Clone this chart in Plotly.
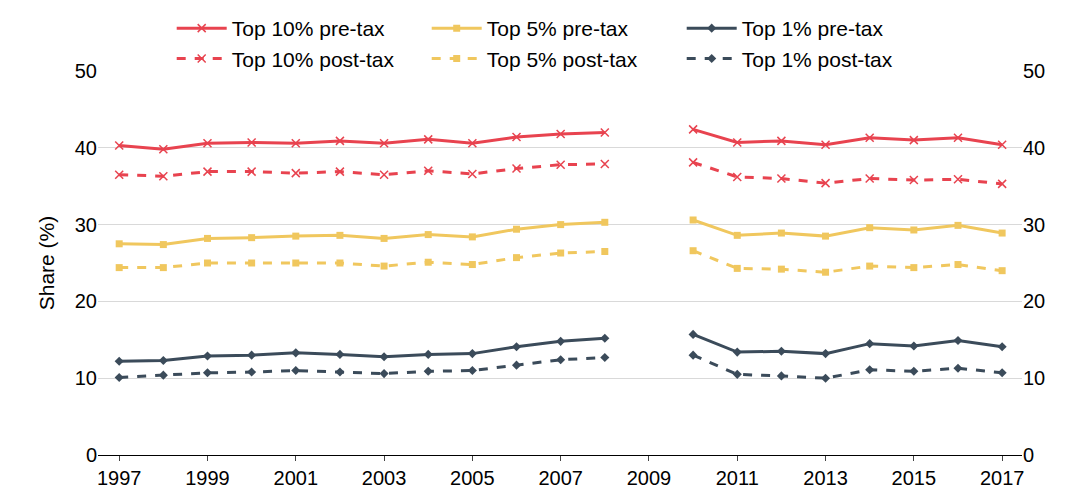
import plotly.graph_objects as go

years = list(range(1997, 2018))
t10_pre = [40.3,39.8,40.6,40.7,40.6,40.9,40.6,41.1,40.6,41.4,41.8,42.0,None,42.4,40.7,40.9,40.4,41.3,41.0,41.3,40.4]
t10_post = [36.5,36.3,36.9,36.9,36.7,36.9,36.5,37.0,36.6,37.3,37.8,37.9,None,38.1,36.2,36.0,35.4,36.0,35.8,35.9,35.3]
t5_pre = [27.5,27.4,28.2,28.3,28.5,28.6,28.2,28.7,28.4,29.4,30.0,30.3,None,30.6,28.6,28.9,28.5,29.6,29.3,29.9,28.9]
t5_post = [24.4,24.4,25.0,25.0,25.0,25.0,24.6,25.1,24.8,25.7,26.3,26.5,None,26.6,24.3,24.2,23.8,24.6,24.4,24.8,24.0]
t1_pre = [12.2,12.3,12.9,13.0,13.3,13.1,12.8,13.1,13.2,14.1,14.8,15.2,None,15.7,13.4,13.5,13.2,14.5,14.2,14.9,14.1]
t1_post = [10.1,10.4,10.7,10.8,11.0,10.8,10.6,10.9,11.0,11.7,12.4,12.7,None,13.0,10.5,10.3,10.0,11.1,10.9,11.3,10.7]

RED, YEL, DARK = "#E8434F", "#F0C75E", "#3B4B5A"
series = [
    ("Top 10% pre-tax", t10_pre, RED, "x-thin", "solid"),
    ("Top 5% pre-tax", t5_pre, YEL, "square", "solid"),
    ("Top 1% pre-tax", t1_pre, DARK, "diamond", "solid"),
    ("Top 10% post-tax", t10_post, RED, "x-thin", "dash"),
    ("Top 5% post-tax", t5_post, YEL, "square", "dash"),
    ("Top 1% post-tax", t1_post, DARK, "diamond", "dash"),
]
fig = go.Figure()
for name, ys, c, sym, dash in series:
    mk = dict(symbol=sym, color=c, size=7 if sym != "x-thin" else 8)
    if sym == "x-thin":
        mk["line"] = dict(color=c, width=1.5)
    fig.add_trace(go.Scatter(x=years, y=ys, name=name, mode="lines+markers",
                             line=dict(color=c, width=3, dash=dash), marker=mk))
fig.add_trace(go.Scatter(x=[years[0]], y=[None], yaxis="y2", showlegend=False, hoverinfo="skip"))

ax = dict(range=[0, 50], dtick=10, tickfont=dict(size=20, color="#000"), showline=False)
fig.update_layout(
    width=1077, height=498, plot_bgcolor="white", paper_bgcolor="white",
    font=dict(family="Liberation Sans, Arial", color="#000"),
    margin=dict(l=90, r=63, t=63, b=51, autoexpand=False),
    xaxis=dict(range=[1996.52, 2017.45], tickmode="array", tickvals=list(range(1997, 2018, 2)),
               tickfont=dict(size=20), showgrid=False, showline=True, linecolor="#000",
               ticks="outside", ticklen=5),
    yaxis=dict(**ax, showgrid=True, gridcolor="#D9D9D9", zeroline=False,
               title=dict(text="Share (%)", font=dict(size=21), standoff=14)),
    yaxis2=dict(**ax, overlaying="y", side="right", showgrid=False),
    legend=dict(orientation="h", x=0.152, y=1.0, xref="container", yref="container",
                xanchor="left", yanchor="top",
                entrywidth=190, font=dict(size=21), tracegroupgap=0, itemwidth=50),
)
fig.write_html("out.html")
